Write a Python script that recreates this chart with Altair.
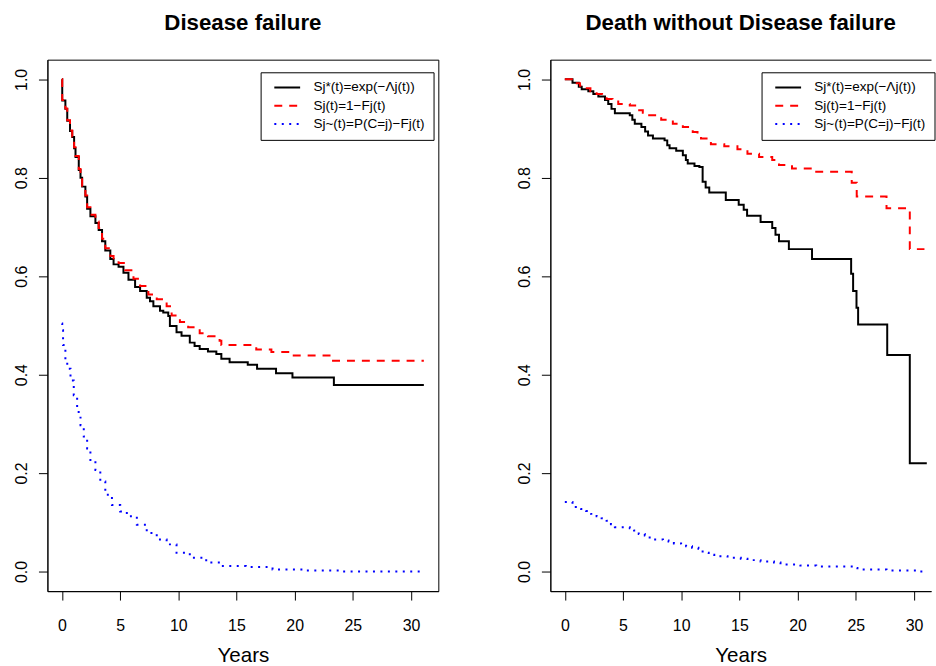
import altair as alt
import pandas as pd

# ---- series labels / styles ----
S1 = "Sj*(t)=exp(−Λj(t))"
S2 = "Sj(t)=1−Fj(t)"
S3 = "Sj~(t)=P(C=j)−Fj(t)"
series_names = [S1, S2, S3]
series_colors = ["#000000", "#FF0000", "#0000FF"]
series_dashes = [[1, 0], [8, 7], [2, 5.5]]

titles = ["Disease failure", "Death without Disease failure"]
x_ticks = [0, 5, 10, 15, 20, 25, 30]
y_ticks = [0.0, 0.2, 0.4, 0.6, 0.8, 1.0]

# ---- Panel 1: Disease failure ----
p1_black_t = [0, 0.03, 0.3, 0.46, 0.7, 0.89, 1.05, 1.17, 1.45, 1.6, 1.74, 2.02, 2.17, 2.45, 2.88,
              3.16, 3.45, 3.73, 4.16, 4.44, 4.87, 5.29, 5.72, 6.29, 6.72, 7.29, 7.57, 7.86, 8.43,
              8.71, 9.14, 9.28, 9.85, 10.28, 10.99, 11.4, 11.84, 12.55, 13.27, 13.7, 14.41, 15.97,
              16.77, 18.4, 19.81, 23.37, 31.1]
p1_black_v = [1.0, 0.957, 0.94, 0.916, 0.895, 0.883, 0.86, 0.842, 0.816, 0.80, 0.782, 0.762, 0.737,
              0.722, 0.708, 0.694, 0.671, 0.652, 0.635, 0.624, 0.619, 0.607, 0.593, 0.578, 0.570,
              0.556, 0.549, 0.539, 0.530, 0.526, 0.519, 0.499, 0.486, 0.479, 0.465, 0.458, 0.452,
              0.447, 0.442, 0.432, 0.425, 0.420, 0.412, 0.403, 0.394, 0.379, 0.379]

p1_red_t = [0, 0.03, 0.3, 0.46, 0.7, 0.89, 1.05, 1.17, 1.45, 1.6, 1.74, 2.02, 2.17, 2.45, 2.88,
            3.16, 3.45, 3.73, 4.16, 4.44, 4.87, 5.44, 6.15, 6.72, 7.43, 8.15, 9.0, 9.43, 10.14,
            10.85, 11.84, 12.55, 13.55, 13.7, 16.7, 18.0, 19.6, 23.2, 31.1]
p1_red_v = [1.0, 0.958, 0.941, 0.917, 0.896, 0.884, 0.862, 0.844, 0.818, 0.802, 0.784, 0.764, 0.740,
            0.725, 0.711, 0.698, 0.676, 0.657, 0.641, 0.632, 0.627, 0.612, 0.595, 0.580, 0.563,
            0.553, 0.539, 0.520, 0.507, 0.496, 0.484, 0.478, 0.469, 0.460, 0.451, 0.446, 0.439,
            0.428, 0.428]

p1_blue_t = [0, 0.03, 0.1, 0.3, 0.46, 0.74, 1.02, 1.31, 1.6, 1.88, 2.17, 2.45, 2.88, 3.3, 3.73,
             4.3, 5.01, 5.58, 6.44, 7.29, 8.15, 9.0, 9.85, 10.99, 12.4, 13.83, 15.8, 18.1, 20.96,
             23.8, 31.1]
p1_blue_v = [0.504, 0.49, 0.46, 0.43, 0.412, 0.388, 0.358, 0.324, 0.297, 0.274, 0.25, 0.224, 0.206,
             0.183, 0.156, 0.135, 0.122, 0.112, 0.095, 0.078, 0.065, 0.055, 0.038, 0.028, 0.018,
             0.011, 0.009, 0.004, 0.002, 0.0, 0.0]

# ---- Panel 2: Death without Disease failure ----
p2_black_t = [0, 0.66, 1.2, 1.45, 2.02, 2.45, 2.88, 3.45, 3.73, 4.01, 4.3, 5.58, 5.8, 6.01, 6.58,
              6.9, 7.15, 7.57, 8.57, 8.8, 9.0, 9.57, 10.14, 10.4, 10.56, 11.14, 11.56, 11.84, 12.1,
              12.41, 13.83, 14.94, 15.37, 15.66, 16.82, 17.82, 18.1, 18.4, 19.25, 21.24, 24.6,
              24.77, 25.06, 25.2, 27.7, 29.64, 31.1]
p2_black_v = [1.0, 0.993, 0.985, 0.980, 0.976, 0.970, 0.965, 0.958, 0.950, 0.940, 0.931, 0.927,
              0.918, 0.910, 0.903, 0.894, 0.886, 0.880, 0.876, 0.866, 0.860, 0.855, 0.846, 0.836,
              0.829, 0.824, 0.822, 0.792, 0.780, 0.770, 0.755, 0.745, 0.735, 0.723, 0.710, 0.698,
              0.684, 0.671, 0.655, 0.635, 0.605, 0.570, 0.536, 0.502, 0.440, 0.220, 0.220]

p2_red_t = [0, 0.89, 1.3, 1.74, 2.2, 2.73, 3.2, 3.59, 4.1, 4.59, 5.58, 6.29, 6.7, 7.15, 8.28, 9.28,
            10.14, 10.99, 11.4, 11.7, 12.55, 13.7, 14.83, 15.69, 16.69, 17.82, 18.4, 19.52, 21.38,
            24.65, 25.08, 27.64, 29.64, 30.9]
p2_red_v = [1.0, 0.992, 0.987, 0.982, 0.976, 0.970, 0.965, 0.960, 0.955, 0.950, 0.947, 0.937, 0.932,
            0.927, 0.918, 0.910, 0.903, 0.893, 0.888, 0.880, 0.868, 0.864, 0.858, 0.849, 0.842,
            0.836, 0.826, 0.819, 0.812, 0.790, 0.762, 0.738, 0.655, 0.655]

p2_blue_t = [0, 0.66, 0.94, 1.4, 1.83, 2.25, 2.73, 3.16, 3.59, 3.96, 4.3, 5.58, 5.95, 6.35, 6.87,
             7.29, 8.43, 8.91, 9.37, 9.99, 10.42, 10.93, 11.48, 11.84, 12.36, 12.84, 13.98, 15.12,
             15.69, 16.82, 17.97, 18.53, 20.24, 21.6, 24.65, 25.14, 27.64, 30.2, 30.9]
p2_blue_v = [0.141, 0.136, 0.131, 0.127, 0.123, 0.117, 0.112, 0.108, 0.103, 0.096, 0.090, 0.088,
             0.083, 0.076, 0.073, 0.065, 0.063, 0.061, 0.057, 0.055, 0.051, 0.048, 0.046, 0.038,
             0.034, 0.031, 0.028, 0.026, 0.023, 0.020, 0.018, 0.014, 0.012, 0.010, 0.007, 0.004,
             0.002, 0.0, 0.0]


def make_df(pairs):
    rows = []
    for name, ts, vs in pairs:
        for i, (t, v) in enumerate(zip(ts, vs)):
            rows.append({"series": name, "t": t, "v": v, "i": i})
    return pd.DataFrame(rows)


df1 = make_df([(S1, p1_black_t, p1_black_v), (S2, p1_red_t, p1_red_v), (S3, p1_blue_t, p1_blue_v)])
df2 = make_df([(S1, p2_black_t, p2_black_v), (S2, p2_red_t, p2_red_v), (S3, p2_blue_t, p2_blue_v)])

FONT = "Liberation Sans"
PLOT_H = 534.7


def panel(df, title, xmax, width, view, legx):
    xs = alt.Scale(domain=[-1.244, xmax], nice=False, zero=False)
    ys = alt.Scale(domain=[-0.04, 1.04], nice=False, zero=False)
    leg = alt.Legend(
        title=None, orient="none", legendX=legx, legendY=12.7,
        strokeColor="black", fillColor="white", padding=8.5,
        symbolType="M-0.35,0H5.65", symbolSize=75, symbolStrokeWidth=2,
        labelFont=FONT, labelFontSize=13.6, labelColor="black", labelOffset=31,
        rowPadding=3.4, labelLimit=400,
    )
    xaxis = alt.Axis(values=x_ticks, title="Years", grid=False, tickSize=9, labelPadding=18,
                     titlePadding=12, labelFontSize=16, titleFontSize=20.7,
                     titleFontWeight="normal", labelFont=FONT, titleFont=FONT,
                     labelColor="black", titleColor="black", tickColor="black",
                     domainColor="black", labelFlush=False)
    yaxis = alt.Axis(values=y_ticks, format=".1f", title=None, grid=False, tickSize=9,
                     labelPadding=9, labelFontSize=16, labelAngle=270, labelAlign="center",
                     labelBaseline="bottom", labelFont=FONT, labelColor="black",
                     tickColor="black", domainColor="black", labelFlush=False)
    ch = alt.Chart(df).mark_line(interpolate="step-after", strokeWidth=2, clip=True).encode(
        x=alt.X("t:Q", scale=xs, axis=xaxis),
        y=alt.Y("v:Q", scale=ys, axis=yaxis),
        color=alt.Color("series:N", scale=alt.Scale(domain=series_names, range=series_colors), legend=leg),
        strokeDash=alt.StrokeDash("series:N", scale=alt.Scale(domain=series_names, range=series_dashes), legend=leg),
        order=alt.Order("i:Q"),
    ).properties(
        width=width, height=PLOT_H, view=view,
        title=alt.TitleParams(title, font=FONT, fontSize=22.4, fontWeight="bold", color="black",
                              baseline="alphabetic", offset=7.3, frame="group", anchor="middle"),
    )
    return ch


W1 = 393.3
W2 = 383
xmax1 = 32.344
xmax2 = -1.244 + W2 * (xmax1 + 1.244) / W1

left = panel(df1, titles[0], xmax1, W1, alt.ViewBackground(stroke="black", strokeWidth=1), 214.5)
right = panel(df2, titles[1], xmax2, W2,
              alt.ViewBackground(stroke="black", strokeWidth=1,
                                 strokeDash=[W2, PLOT_H, W2 + PLOT_H]), 212.5)

chart = alt.hconcat(left, right, spacing=112).properties(
    bounds="flush",
    padding={"left": 12.7, "top": 9, "right": 0, "bottom": 0},
).resolve_scale(
    x="independent", y="independent", color="independent", strokeDash="independent"
).resolve_legend(color="independent", strokeDash="independent").configure(
    background="white"
)

chart.save("out.html", embed_options={"renderer": "svg", "actions": False})
